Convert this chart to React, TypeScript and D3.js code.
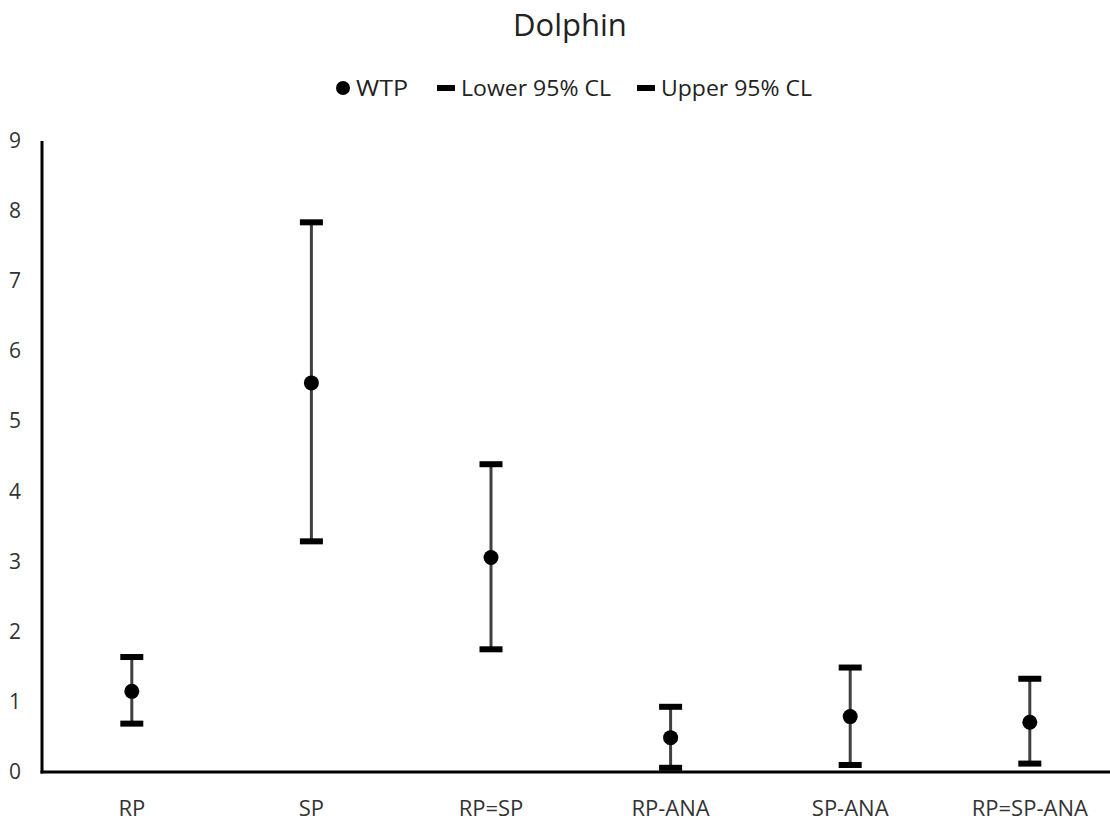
import React from "react";
import * as d3 from "d3";

const categories = ["RP", "SP", "RP=SP", "RP-ANA", "SP-ANA", "RP=SP-ANA"];
const wtp = [1.15, 5.55, 3.06, 0.49, 0.79, 0.71];
const lower = [0.69, 3.29, 1.75, 0.06, 0.1, 0.12];
const upper = [1.64, 7.84, 4.39, 0.93, 1.49, 1.33];
const yTicks = [0, 1, 2, 3, 4, 5, 6, 7, 8, 9];

const W = 1110;
const H = 825;
const FONT = "'Open Sans', 'Noto Sans', sans-serif";

export default function App() {
  const x = d3.scaleBand<string>().domain(categories).range([42, 42 + 6 * 179.6]);
  const y = d3.scaleLinear().domain([0, 9]).range([772, 141]);
  const bw = x.bandwidth();
  const capW = 23;

  return (
    <svg width={W} height={H} style={{ position: "absolute", left: 0, top: 0, background: "#fff" }}>
      <text x={570} y={36} textAnchor="middle" fontFamily={FONT} fontSize={31} fill="#222">Dolphin</text>
      {/* legend */}
      <g fontFamily={FONT} fontSize={22} fill="#222">
        <circle cx={343} cy={88} r={7} fill="#000" />
        <text x={356} y={96} textLength={52} lengthAdjust="spacingAndGlyphs">WTP</text>
        <rect x={437} y={85} width={18} height={6} fill="#000" />
        <text x={461} y={96} textLength={150} lengthAdjust="spacingAndGlyphs">Lower 95% CL</text>
        <rect x={637} y={85} width={18} height={6} fill="#000" />
        <text x={661} y={96} textLength={151} lengthAdjust="spacingAndGlyphs">Upper 95% CL</text>
      </g>
      {/* y tick labels */}
      <g fontFamily={FONT} fontSize={21} fill="#333">
        {yTicks.map((t) => (
          <text key={t} x={21} y={y(t) + 7} textAnchor="end">{t}</text>
        ))}
      </g>
      {/* axes */}
      <line x1={42} x2={42} y1={y(9)} y2={y(0) + 1.5} stroke="#000" strokeWidth={3} />
      <line x1={40.5} x2={W} y1={y(0)} y2={y(0)} stroke="#000" strokeWidth={3} />
      {/* x labels */}
      <g fontFamily={FONT} fontSize={22} fill="#333">
        {categories.map((c) => (
          <text key={c} x={(x(c) as number) + bw / 2} y={816} textAnchor="middle">{c}</text>
        ))}
      </g>
      {/* error bars */}
      {categories.map((c, i) => {
        const cx = (x(c) as number) + bw / 2;
        return (
          <g key={c}>
            <line x1={cx} x2={cx} y1={y(upper[i])} y2={y(lower[i])} stroke="#404040" strokeWidth={3} />
            <rect x={cx - capW / 2} y={y(upper[i]) - 3} width={capW} height={6} fill="#000" />
            <rect x={cx - capW / 2} y={y(lower[i]) - 3} width={capW} height={6} fill="#000" />
            <circle cx={cx} cy={y(wtp[i])} r={7.5} fill="#000" />
          </g>
        );
      })}
    </svg>
  );
}
